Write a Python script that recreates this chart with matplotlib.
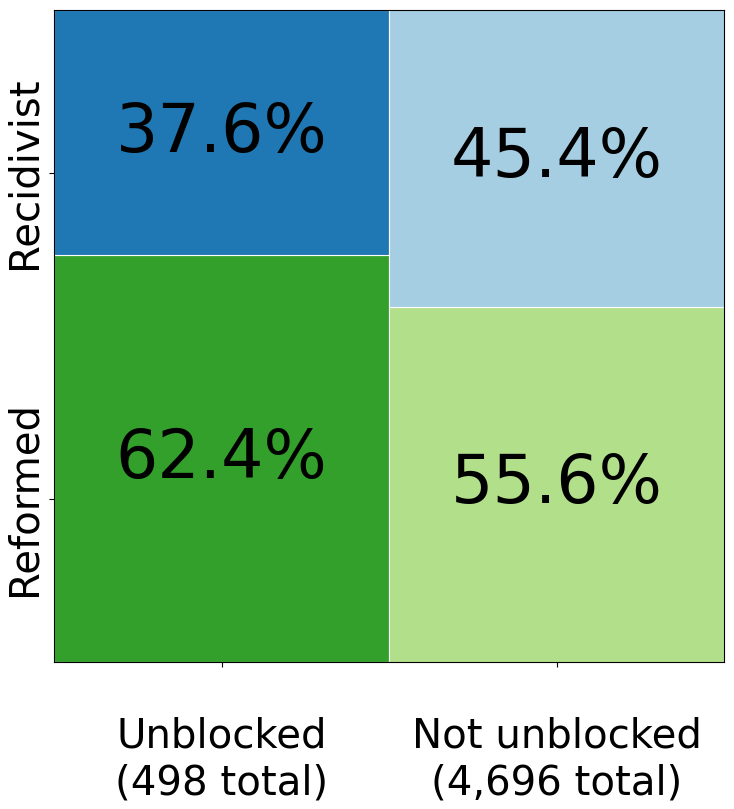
import matplotlib
matplotlib.use("Agg")
import matplotlib.pyplot as plt

groups = ["Unblocked\n(498 total)", "Not unblocked\n(4,696 total)"]
outcomes = ["Reformed", "Recidivist"]
# drawn shares (as read from tile heights)
reformed = [62.4, 54.5]
recidivist = [37.6, 45.5]
# printed labels (as shown)
reformed_labels = ["62.4%", "55.6%"]
recidivist_labels = ["37.6%", "45.4%"]
colors_reformed = ["#33a02c", "#b2df8a"]
colors_recidivist = ["#1f78b4", "#a6cee3"]

fig = plt.figure(figsize=(7.34, 8.09), dpi=100)
ax = fig.add_axes([54/734, 1-662/809, 670/734, 652/809])

x = list(range(len(groups)))
ax.bar(x, reformed, width=1.0, color=colors_reformed, edgecolor="white", linewidth=0.8)
ax.bar(x, recidivist, width=1.0, bottom=reformed, color=colors_recidivist, edgecolor="white", linewidth=0.8)

for i in x:
    ax.text(i, reformed[i] / 2, reformed_labels[i], ha="center", va="center", fontsize=48)
    ax.text(i, reformed[i] + recidivist[i] / 2, recidivist_labels[i], ha="center", va="center", fontsize=48)

ax.set_xlim(-0.5, 1.5)
ax.set_ylim(0, 100)
ax.set_xticks(x)
ax.set_xticklabels(groups, fontsize=29)
ax.tick_params(axis="x", pad=36)
ax.set_yticks([25, 75])
ax.set_yticklabels(outcomes, fontsize=29, rotation=90, va="center")

fig.savefig("out.png", dpi=100)
